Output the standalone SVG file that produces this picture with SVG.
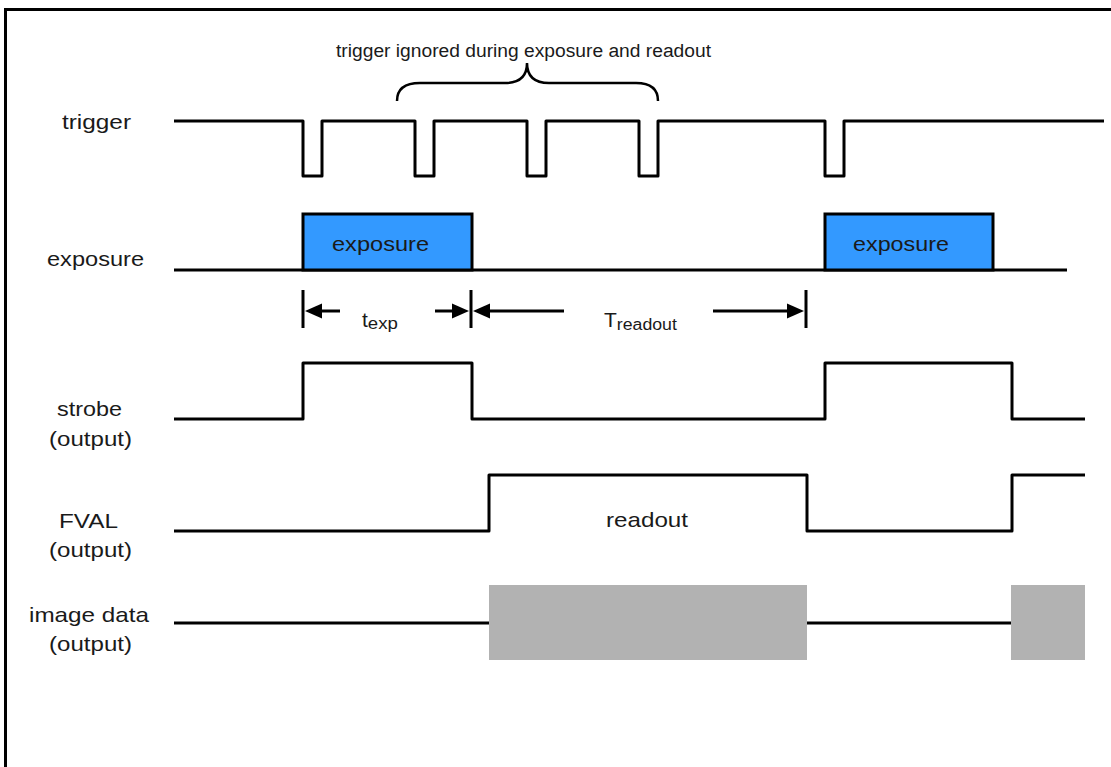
<svg xmlns="http://www.w3.org/2000/svg" width="1111" height="767" viewBox="0 0 1111 767">
<style>
.sig{fill:none;stroke:#000;stroke-width:3;stroke-linejoin:round}
.lbl{font-family:"Liberation Sans",Arial,sans-serif;font-size:21px;fill:#1a1a1a}
.ann{font-family:"Liberation Sans",Arial,sans-serif;font-size:18px;fill:#1a1a1a}
.dim{stroke:#000;stroke-width:3;fill:none}
.ah{fill:#000}
</style>
<rect width="1111" height="767" fill="#fff"/>
<path d="M5.5,767 V9.5 H1111" fill="none" stroke="#000" stroke-width="3"/>

<g id="labels">
<text class="lbl" x="62" y="129" textLength="69" lengthAdjust="spacingAndGlyphs">trigger</text>
<text class="lbl" x="47" y="266" textLength="97" lengthAdjust="spacingAndGlyphs">exposure</text>
<text class="lbl" x="57" y="416" textLength="65" lengthAdjust="spacingAndGlyphs">strobe</text>
<text class="lbl" x="49" y="446" textLength="83" lengthAdjust="spacingAndGlyphs">(output)</text>
<text class="lbl" x="59" y="528" textLength="59" lengthAdjust="spacingAndGlyphs">FVAL</text>
<text class="lbl" x="49" y="557" textLength="83" lengthAdjust="spacingAndGlyphs">(output)</text>
<text class="lbl" x="29" y="622" textLength="120" lengthAdjust="spacingAndGlyphs">image data</text>
<text class="lbl" x="49" y="651" textLength="83" lengthAdjust="spacingAndGlyphs">(output)</text>
</g>

<g id="trigger">
<path class="sig" d="M174,121 H303 V176 H322 V121 H415 V176 H434 V121 H527 V176 H546 V121 H639 V176 H658 V121 H825 V176 H844 V121 H1104"/>
</g>

<g id="ignored-note">
<text class="ann" x="336" y="57" textLength="375" lengthAdjust="spacingAndGlyphs">trigger ignored during exposure and readout</text>
<path d="M397,101 Q397,83 420,83 H505 Q527,83 527,63 Q527,83 549,83 H636 Q658,83 658,101" fill="none" stroke="#000" stroke-width="2.5"/>
</g>

<g id="exposure">
<path class="sig" d="M174,270 H1067"/>
<rect x="303" y="214" width="169" height="56" fill="#3399ff" stroke="#000" stroke-width="3"/>
<text class="lbl" x="332" y="251" textLength="97" lengthAdjust="spacingAndGlyphs">exposure</text>
<rect x="825" y="214" width="168" height="56" fill="#3399ff" stroke="#000" stroke-width="3"/>
<text class="lbl" x="853" y="251" textLength="96" lengthAdjust="spacingAndGlyphs">exposure</text>
</g>

<g id="dimensions">
<line class="dim" x1="303" y1="290" x2="303" y2="328"/>
<line class="dim" x1="471" y1="290" x2="471" y2="328"/>
<line class="dim" x1="806" y1="290" x2="806" y2="328"/>
<line class="dim" x1="318" y1="311" x2="340" y2="311"/>
<polygon class="ah" points="305,311 322,303.5 322,318.5"/>
<line class="dim" x1="435" y1="311" x2="455" y2="311"/>
<polygon class="ah" points="469,311 452,303.5 452,318.5"/>
<polygon class="ah" points="473,311 490,303.5 490,318.5"/>
<line class="dim" x1="486" y1="311" x2="564" y2="311"/>
<line class="dim" x1="713" y1="311" x2="790" y2="311"/>
<polygon class="ah" points="804,311 787,303.5 787,318.5"/>
<text class="lbl" x="362" y="327" font-size="22">t<tspan font-size="16" dy="2" textLength="30" lengthAdjust="spacingAndGlyphs">exp</tspan></text>
<text class="lbl" x="604" y="327" font-size="22">T<tspan font-size="16" dy="3" textLength="60" lengthAdjust="spacingAndGlyphs">readout</tspan></text>
</g>

<g id="strobe">
<path class="sig" d="M174,419 H303 V363 H472 V419 H825 V363 H1012 V419 H1085"/>
</g>

<g id="fval">
<path class="sig" d="M174,531 H489 V475 H807 V531 H1012 V475 H1085"/>
<text class="lbl" x="606" y="527" textLength="82" lengthAdjust="spacingAndGlyphs">readout</text>
</g>

<g id="image-data">
<path class="sig" d="M174,623 H489 M807,623 H1011"/>
<rect x="489" y="585" width="318" height="75" fill="#b2b2b2"/>
<rect x="1011" y="585" width="74" height="75" fill="#b2b2b2"/>
</g>
</svg>
